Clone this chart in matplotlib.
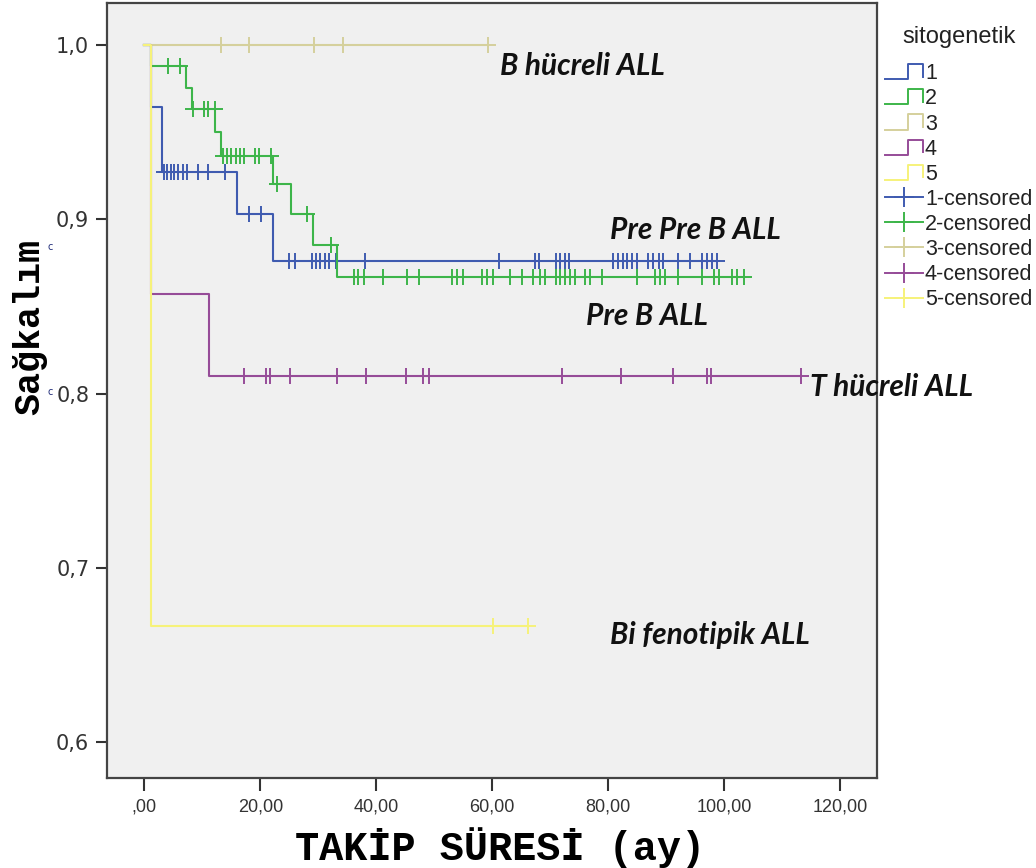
import numpy as np
import matplotlib
matplotlib.use("Agg")
import matplotlib.pyplot as plt
from matplotlib.lines import Line2D
from matplotlib.legend_handler import HandlerBase

# ---- Kaplan-Meier data (months, survival) ----
groups = ["1", "2", "3", "4", "5"]
colors = ["#3F5BB0", "#3DB54A", "#D5D09C", "#964C98", "#F6F27A"]

# drop times and survival levels after each drop
g1_drops = [1.1, 3.1, 15.9, 22.1]
g1_levels = [1.0, 0.964, 0.927, 0.903, 0.876]
g1_cens = [3.3, 3.9, 4.5, 5.1, 5.8, 6.6, 7.4, 9.2, 11.0, 13.9,
           18.1, 20.1,
           25.0, 25.9, 28.9, 29.6, 30.3, 31.2, 31.9, 33.1, 38.1, 61.1,
           67.4, 68.1, 71.0, 71.7, 72.6, 73.3, 80.9, 81.7, 82.5, 83.3,
           84.1, 84.9, 86.9, 87.8, 88.7, 89.5, 92.1, 94.1, 96.2, 97.0,
           97.9, 98.7]

g2_drops = [1.1, 7.2, 8.2, 12.2, 13.2, 22.1, 25.3, 29.0, 33.2]
g2_levels = [1.0, 0.988, 0.975, 0.963, 0.950, 0.936, 0.920, 0.903, 0.885, 0.867]
g2_cens = [4.1, 6.2, 8.4, 10.2, 10.9, 12.1, 13.5, 14.2, 15.0, 15.8, 16.5,
           17.2, 19.1, 19.8, 21.9, 22.8, 28.1, 32.2,
           36.1, 36.9, 37.8, 41.1, 45.3, 47.3, 53.0, 53.9, 55.0, 58.2,
           59.1, 60.2, 63.1, 65.1, 67.1, 68.2, 69.1, 71.0, 71.7, 72.6,
           73.4, 74.3, 76.0, 76.8, 78.9, 85.0, 88.1, 89.0, 89.8, 92.1,
           96.2, 98.2, 99.1, 101.3, 102.2, 103.4]

g3_drops = []
g3_levels = [1.0]
g3_cens = [13.2, 18.1, 29.2, 34.2, 59.2]

g4_drops = [1.1, 11.2]
g4_levels = [1.0, 0.857, 0.810]
g4_cens = [17.2, 20.9, 21.7, 25.1, 33.2, 38.2, 45.1, 48.0, 49.0,
           72.1, 82.2, 91.1, 97.0, 97.7, 113.2]

g5_drops = [1.1]
g5_levels = [1.0, 0.667]
g5_cens = [60.2, 66.1]

drops = [g1_drops, g2_drops, g3_drops, g4_drops, g5_drops]
levels = [g1_levels, g2_levels, g3_levels, g4_levels, g5_levels]
censored = [g1_cens, g2_cens, g3_cens, g4_cens, g5_cens]

x_ticks = [0, 20, 40, 60, 80, 100, 120]
x_ticklabels = [",00", "20,00", "40,00", "60,00", "80,00", "100,00", "120,00"]
y_ticks = [0.6, 0.7, 0.8, 0.9, 1.0]
y_ticklabels = ["0,6", "0,7", "0,8", "0,9", "1,0"]

annotations = [
    ("B hücreli ALL", 61.4, 0.9877),
    ("Pre Pre B ALL", 80.3, 0.8937),
    ("Pre B ALL", 76.2, 0.8444),
    ("T hücreli ALL", 114.8, 0.8037),
    ("Bi fenotipik ALL", 80.3, 0.6616),
]

# ---- figure ----
fig = plt.figure(figsize=(10.36, 8.68), dpi=100)
ax = fig.add_axes([0.1036, 0.104, 0.7426, 0.8925])
ax.set_facecolor("#F0F0F0")

lw = 1.5
for i in range(len(groups)):
    d = drops[i]
    lv = levels[i]
    cens = censored[i]
    end = max(cens + d)
    xs = [0.0] + list(d) + [end]
    ys = list(lv) + [lv[-1]]
    ax.step(xs, ys, where="post", color=colors[i], lw=lw, zorder=2 + i * 0.1)
    idx = np.searchsorted(np.array(d), np.array(cens), side="right")
    cy = np.array(lv)[idx]
    ax.plot(cens, cy, linestyle="none", marker="+", markersize=12,
            markeredgewidth=1.4, color=colors[i], zorder=2 + i * 0.1)

ax.set_xlim(-6.4, 126.3)
ax.set_ylim(0.5798, 1.0238)
ax.set_xticks(x_ticks)
ax.set_xticklabels(x_ticklabels, fontsize=13, color="#333333",
                   family=["Liberation Sans Narrow", "Liberation Sans"])
ax.set_yticks(y_ticks)
ax.set_yticklabels(y_ticklabels, fontsize=15, color="#333333",
                   family=["DejaVu Sans"])
ax.tick_params(axis="x", length=9, width=1.5, color="#333333", pad=6)
ax.tick_params(axis="y", length=8, width=1.5, color="#333333", pad=5)
for s in ax.spines.values():
    s.set_color("#444444")
    s.set_linewidth(1.6)

fig.text(500 / 1036, 1 - 848 / 868, "TAKİP SÜRESİ (ay)", fontsize=29,
         fontweight="bold", ha="center", va="center",
         family=["Liberation Mono", "DejaVu Sans Mono"])
fig.text(30 / 1036, 1 - 327 / 868, "Sağkalım", fontsize=26.5,
         fontweight="bold", rotation=90, ha="center", va="center",
         family=["Liberation Mono", "DejaVu Sans Mono"])

# small stray glyphs beside the y label
fig.text(50 / 1036, 1 - 247 / 868, "c", fontsize=7, color="#1E2A78",
         ha="center", va="center")
fig.text(50 / 1036, 1 - 392 / 868, "c", fontsize=7, color="#1E2A78",
         ha="center", va="center")

for txt, tx, ty in annotations:
    ax.text(tx, ty, txt, fontsize=21.5, fontweight="bold", fontstyle="italic",
            family=["Lato", "Open Sans", "DejaVu Sans"], color="#111111",
            ha="left", va="center", clip_on=False, zorder=5)


# ---- legend ----
class StepHandler(HandlerBase):
    def create_artists(self, legend, orig_handle, xdescent, ydescent,
                       width, height, fontsize, trans):
        x0, y0 = -xdescent, -ydescent
        xs = [x0, x0 + 0.6 * width, x0 + 0.6 * width, x0 + width, x0 + width]
        ys = [y0 + 0.0 * height, y0 + 0.0 * height, y0 + 1.0 * height,
              y0 + 1.0 * height, y0 + 0.15 * height]
        return [Line2D(xs, ys, color=orig_handle.get_color(), lw=1.4,
                       transform=trans)]


step_handles = [Line2D([], [], color=c) for c in colors]
cens_handles = [Line2D([], [], color=c, lw=1.4, marker="+", markersize=15,
                       markeredgewidth=1.4) for c in colors]
labels = groups + [g + "-censored" for g in groups]
hmap = {h: StepHandler() for h in step_handles}
leg = fig.legend(step_handles + cens_handles, labels, handler_map=hmap,
                 loc="upper left", bbox_to_anchor=(870 / 1036, 1 - 11 / 868),
                 frameon=False, title="sitogenetik",
                 title_fontsize=17, handlelength=1.75, handletextpad=0.1,
                 labelspacing=0.19, numpoints=1, borderpad=0.2,
                 prop={"family": ["Liberation Sans", "DejaVu Sans"], "size": 15.5})
leg.get_title().set_family(["Liberation Sans", "DejaVu Sans"])
leg.get_title().set_color("#222222")
leg._legend_box.sep = 11
for t in leg.get_texts():
    t.set_color("#222222")

fig.savefig("out.png", dpi=100, facecolor="white")
